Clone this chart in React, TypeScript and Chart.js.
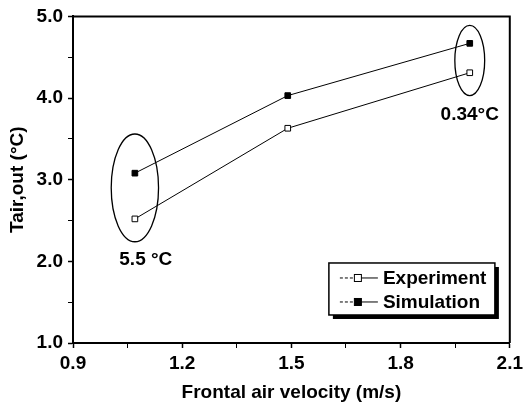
import React, { useEffect, useRef } from "react";
import { Chart, registerables } from "chart.js";

Chart.register(...registerables);

const velocity = [1.07, 1.49, 1.99];
const experiment = [2.52, 3.63, 4.31];
const simulation = [3.08, 4.03, 4.67];
const seriesNames = ["Experiment", "Simulation"];
const xTicks = { min: 0.9, max: 2.1, major: 0.3, minor: 0.15 };
const yTicks = { min: 1.0, max: 5.0, major: 1.0, minor: 0.5 };
// ellipses: [centerX, centerY, radiusX, radiusY] in data units
const ellipses = [
  [1.07, 2.9, 0.065, 0.66],
  [1.99, 4.46, 0.041, 0.43],
];
const notes = [
  { text: "5.5 °C", x: 1.1, y: 2.02 },
  { text: "0.34°C", x: 1.99, y: 3.79 },
];

const FONT = "'Liberation Sans', Arial, Helvetica, sans-serif";

const isMajor = (v: number, start: number, step: number) => {
  const r = (v - start) / step;
  return Math.abs(r - Math.round(r)) < 1e-6;
};

const overlayPlugin = {
  id: "overlay",
  afterDatasetsDraw(chart: any) {
    const { ctx, chartArea, scales } = chart;
    const xs = scales.x;
    const ys = scales.y;
    ctx.save();
    // frame top & right
    ctx.strokeStyle = "#000";
    ctx.lineWidth = 2;
    ctx.beginPath();
    ctx.moveTo(chartArea.left, chartArea.top);
    ctx.lineTo(chartArea.right, chartArea.top);
    ctx.lineTo(chartArea.right, chartArea.bottom);
    ctx.stroke();

    // ellipses
    ctx.lineWidth = 1.3;
    for (const [cx, cy, rx, ry] of ellipses) {
      const px = xs.getPixelForValue(cx);
      const py = ys.getPixelForValue(cy);
      const prx = Math.abs(xs.getPixelForValue(cx + rx) - px);
      const pry = Math.abs(ys.getPixelForValue(cy + ry) - py);
      ctx.beginPath();
      ctx.ellipse(px, py, prx, pry, 0, 0, Math.PI * 2);
      ctx.stroke();
    }

    // notes
    ctx.fillStyle = "#000";
    ctx.font = `bold 19px ${FONT}`;
    ctx.textAlign = "center";
    ctx.textBaseline = "middle";
    for (const n of notes) {
      ctx.fillText(n.text, xs.getPixelForValue(n.x), ys.getPixelForValue(n.y));
    }

    // legend box
    const bx = xs.getPixelForValue(1.603);
    const by = ys.getPixelForValue(1.98);
    const bw = 166;
    const bh = 52;
    ctx.fillStyle = "#000";
    ctx.fillRect(bx + 4, by + 4, bw, bh);
    ctx.fillStyle = "#fff";
    ctx.fillRect(bx, by, bw, bh);
    ctx.strokeStyle = "#000";
    ctx.lineWidth = 1.5;
    ctx.strokeRect(bx, by, bw, bh);
    chart.data.datasets.forEach((d: any, i: number) => {
      const ry = by + 15 + i * 24;
      const lx = bx + 11;
      ctx.strokeStyle = "#000";
      ctx.lineWidth = 1;
      ctx.setLineDash([3, 2]);
      ctx.beginPath();
      ctx.moveTo(lx, ry);
      ctx.lineTo(lx + 14, ry);
      ctx.stroke();
      ctx.setLineDash([]);
      ctx.beginPath();
      ctx.moveTo(lx + 21, ry);
      ctx.lineTo(lx + 38, ry);
      ctx.stroke();
      ctx.fillStyle = d.pointBackgroundColor;
      ctx.fillRect(lx + 14.5, ry - 3.5, 7, 7);
      ctx.strokeRect(lx + 14.5, ry - 3.5, 7, 7);
      ctx.fillStyle = "#000";
      ctx.font = `bold 19px ${FONT}`;
      ctx.textAlign = "left";
      ctx.textBaseline = "middle";
      ctx.fillText(d.label, lx + 43, ry + 1);
    });
    ctx.restore();
  },
};

export default function App() {
  const ref = useRef<HTMLCanvasElement | null>(null);
  useEffect(() => {
    if (!ref.current) return;
    const chart = new Chart(ref.current, {
      type: "line",
      data: {
        datasets: [
          {
            label: seriesNames[0],
            data: velocity.map((x, i) => ({ x, y: experiment[i] })),
            borderColor: "#000",
            borderWidth: 1,
            pointStyle: "rect",
            pointRadius: 4,
            pointBackgroundColor: "#fff",
            pointBorderColor: "#000",
            pointBorderWidth: 1,
            tension: 0,
          },
          {
            label: seriesNames[1],
            data: velocity.map((x, i) => ({ x, y: simulation[i] })),
            borderColor: "#000",
            borderWidth: 1,
            pointStyle: "rect",
            pointRadius: 4,
            pointBackgroundColor: "#000",
            pointBorderColor: "#000",
            pointBorderWidth: 1,
            tension: 0,
          },
        ],
      },
      options: {
        animation: false,
        responsive: false,
        maintainAspectRatio: false,
        layout: { padding: { top: 15, right: 12, left: 0, bottom: 0 } },
        plugins: { legend: { display: false }, tooltip: { enabled: false } },
        scales: {
          x: {
            type: "linear",
            min: xTicks.min,
            max: xTicks.max,
            afterFit: (s: any) => {
              s.height = 65;
            },
            border: { display: true, color: "#000", width: 2 },
            grid: {
              drawOnChartArea: false,
              drawTicks: true,
              tickLength: 5,
              tickColor: "#000",
              tickWidth: (c: any) => (c.tick && isMajor(c.tick.value, xTicks.min, xTicks.major) ? 1.5 : 1),
            },
            ticks: {
              stepSize: xTicks.minor,
              autoSkip: false,
              maxRotation: 0,
              color: "#000",
              padding: 4,
              font: { family: FONT, size: 19, weight: "bold" },
              callback: (v: any) => (isMajor(Number(v), xTicks.min, xTicks.major) ? Number(v).toFixed(1) : ""),
            },
            title: {
              display: true,
              text: "Frontal air velocity (m/s)",
              color: "#000",
              font: { family: FONT, size: 19, weight: "bold" },
              padding: { top: 0, bottom: 4 },
            },
          },
          y: {
            type: "linear",
            min: yTicks.min,
            max: yTicks.max,
            afterFit: (s: any) => {
              s.width = 73;
            },
            border: { display: true, color: "#000", width: 2 },
            grid: {
              drawOnChartArea: false,
              drawTicks: true,
              tickLength: 5,
              tickColor: "#000",
              tickWidth: (c: any) => (c.tick && isMajor(c.tick.value, yTicks.min, yTicks.major) ? 1.5 : 1),
            },
            ticks: {
              stepSize: yTicks.minor,
              autoSkip: false,
              color: "#000",
              padding: 5,
              font: { family: FONT, size: 19, weight: "bold" },
              callback: (v: any) => (isMajor(Number(v), yTicks.min, yTicks.major) ? Number(v).toFixed(1) : ""),
            },
            title: {
              display: true,
              text: "Tair,out (°C)",
              color: "#000",
              font: { family: FONT, size: 19, weight: "bold" },
              padding: { top: 6, bottom: 0 },
            },
          },
        },
      },
      plugins: [overlayPlugin],
    });
    return () => chart.destroy();
  }, []);
  return (
    <div style={{ position: "fixed", left: 0, top: 0, width: 527, height: 408, background: "#fff" }}>
      <canvas ref={ref} width={527} height={408} style={{ width: 527, height: 408 }} />
    </div>
  );
}
